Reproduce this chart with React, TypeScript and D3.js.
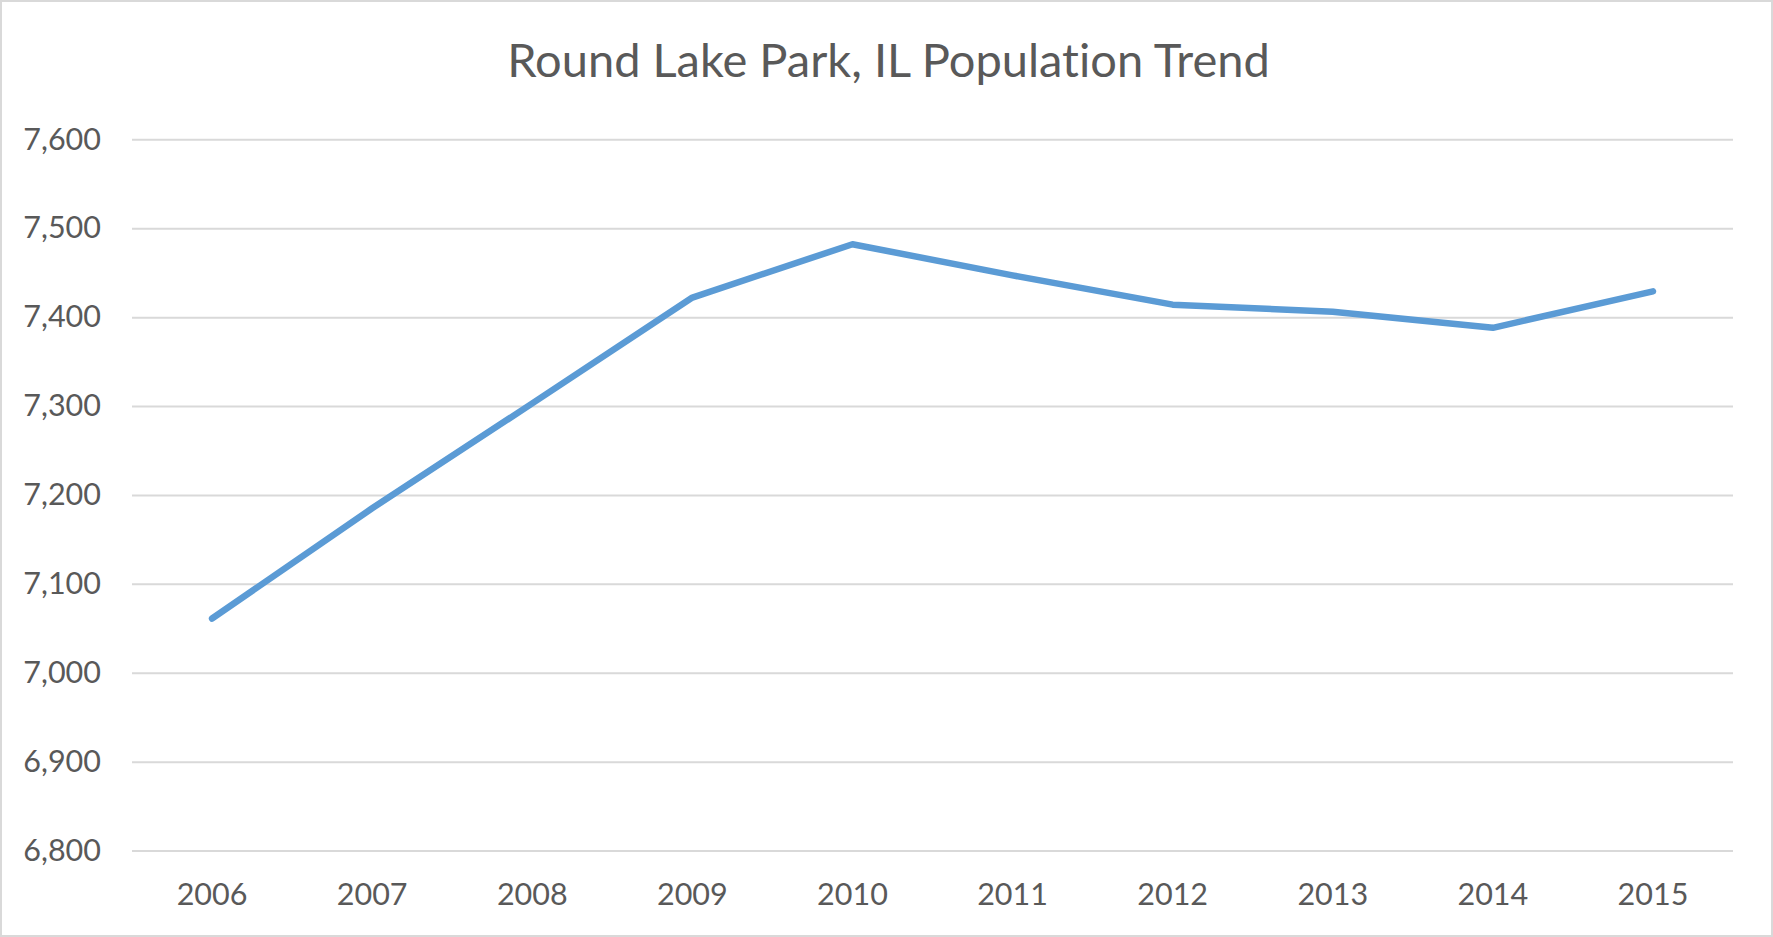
import { useEffect, useRef } from 'react';
import * as d3 from 'd3';

const years = ['2006', '2007', '2008', '2009', '2010', '2011', '2012', '2013', '2014', '2015'];
const population = [7061, 7185, 7303, 7422, 7482, 7447, 7414, 7406, 7388, 7429];
const yTicks = [6800, 6900, 7000, 7100, 7200, 7300, 7400, 7500, 7600];
const title = 'Round Lake Park, IL Population Trend';

const width = 1773;
const height = 937;

export default function App() {
    const svgRef = useRef<SVGSVGElement>(null);

    useEffect(() => {
        document.body.style.margin = '0';
        if (!svgRef.current) return;

        const svg = d3.select(svgRef.current);
        svg.selectAll('*').remove();

        const font = 'Lato, "Noto Sans", sans-serif';
        const textColor = '#595959';
        const margin = { top: 139.3, right: 40, bottom: 86.4, left: 132 };
        const plotW = width - margin.left - margin.right;
        const plotH = height - margin.top - margin.bottom;

        // fondo y borde
        svg.append('rect')
            .attr('x', 1).attr('y', 1)
            .attr('width', width - 2).attr('height', height - 2)
            .attr('fill', '#ffffff')
            .attr('stroke', '#d9d9d9')
            .attr('stroke-width', 2);

        // titulo
        svg.append('text')
            .attr('x', width / 2 + 2)
            .attr('y', 76.7)
            .attr('text-anchor', 'middle')
            .style('font-family', font)
            .style('font-size', '47px')
            .style('font-variant-ligatures', 'none')
            .style('fill', textColor)
            .text(title);

        const x = d3.scaleBand()
            .domain(years)
            .range([0, plotW]);

        const y = d3.scaleLinear()
            .domain([6800, 7600])
            .range([plotH, 0]);

        const g = svg.append('g')
            .attr('transform', `translate(${margin.left},${margin.top})`);

        // eje Y con lineas de grilla
        const yAxis = g.append('g')
            .call(d3.axisLeft(y)
                .tickValues(yTicks)
                .tickFormat(d3.format(','))
                .tickSize(-plotW)
                .tickPadding(31));
        yAxis.select('.domain').remove();
        yAxis.selectAll('line')
            .attr('stroke', '#d9d9d9')
            .attr('stroke-width', 2);
        yAxis.selectAll('text')
            .attr('dy', '0.32em')
            .style('font-family', font)
            .style('font-size', '30.5px')
            .style('fill', textColor);

        // eje X
        const xAxis = g.append('g')
            .attr('transform', `translate(0,${plotH})`)
            .call(d3.axisBottom(x).tickSize(0));
        xAxis.select('.domain').remove();
        xAxis.selectAll('text')
            .attr('y', 54.4)
            .attr('dy', 0)
            .style('font-family', font)
            .style('font-size', '30.5px')
            .style('fill', textColor);

        // linea de poblacion
        const line = d3.line<number>()
            .x((_, i) => (x(years[i]) || 0) + x.bandwidth() / 2)
            .y(d => y(d));

        g.append('path')
            .datum(population)
            .attr('fill', 'none')
            .attr('stroke', '#5b9bd5')
            .attr('stroke-width', 6.5)
            .attr('stroke-linejoin', 'round')
            .attr('stroke-linecap', 'round')
            .attr('d', line);
    }, []);

    return (
        <svg
            ref={svgRef}
            width={width}
            height={height}
            style={{ display: 'block' }}
        />
    );
}
